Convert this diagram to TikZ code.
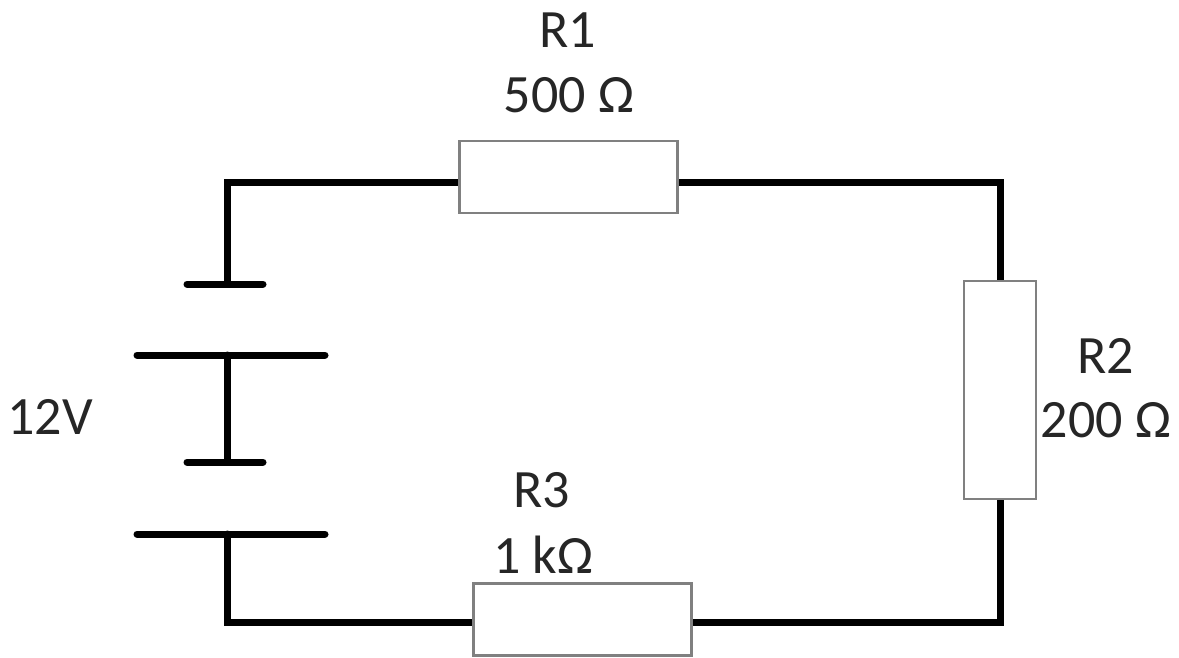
\documentclass[tikz,border=0pt]{standalone}
\usepackage{fontspec}
\setmainfont{Carlito}
\begin{document}
\begin{tikzpicture}[x=1pt,y=-1pt,
  wire/.style={line width=7pt,draw=black,line cap=round,line join=miter},
  res/.style={draw=black!50,line width=2.2pt,fill=white,minimum width=218pt,minimum height=72pt,inner sep=0pt,outer sep=0pt},
  resv/.style={draw=black!50,line width=2.2pt,fill=white,minimum width=72pt,minimum height=218pt,inner sep=0pt,outer sep=0pt},
  lbl/.style={font=\fontsize{54}{60}\selectfont,text=black!85,inner sep=0pt,anchor=base}]
\useasboundingbox (0,0) rectangle (1179,657);
\fill[white] (0,0) rectangle (1179,657);
\coordinate (tl) at (227,182);
\coordinate (tr) at (1000,182);
\coordinate (br) at (1000,622);
\coordinate (bl) at (227,622);
\coordinate (p1) at (227,284);
\coordinate (p1a) at (187,284);
\coordinate (p1b) at (263,284);
\coordinate (p2) at (227,355);
\coordinate (p2a) at (137,355);
\coordinate (p2b) at (325,355);
\coordinate (p3) at (227,462);
\coordinate (p3a) at (187,462);
\coordinate (p3b) at (263,462);
\coordinate (p4) at (227,534);
\coordinate (p4a) at (137,534);
\coordinate (p4b) at (325,534);
\draw[wire] (p1) -- (tl) -- (tr) -- (br) -- (bl) -- (p4);
\draw[wire] (p2) -- (p3);
\draw[wire] (p1a) -- (p1b);
\draw[wire] (p2a) -- (p2b);
\draw[wire] (p3a) -- (p3b);
\draw[wire] (p4a) -- (p4b);
\node[res] (r1) at (568.5,177) {};
\node[resv] (r2) at (1000,390) {};
\node[res] (r3) at (582.5,619.5) {};
\node[lbl] (r1n) at (568,47) {R1};
\node[lbl] (r1v) at (569,112) {500 Ω};
\node[lbl] (r2n) at (1106,373) {R2};
\node[lbl] (r2v) at (1106,437) {200 Ω};
\node[lbl] (r3n) at (542,507) {R3};
\node[lbl] (r3v) at (543,573) {1 kΩ};
\node[lbl] (v) at (50,434) {12V};
\end{tikzpicture}
\end{document}
